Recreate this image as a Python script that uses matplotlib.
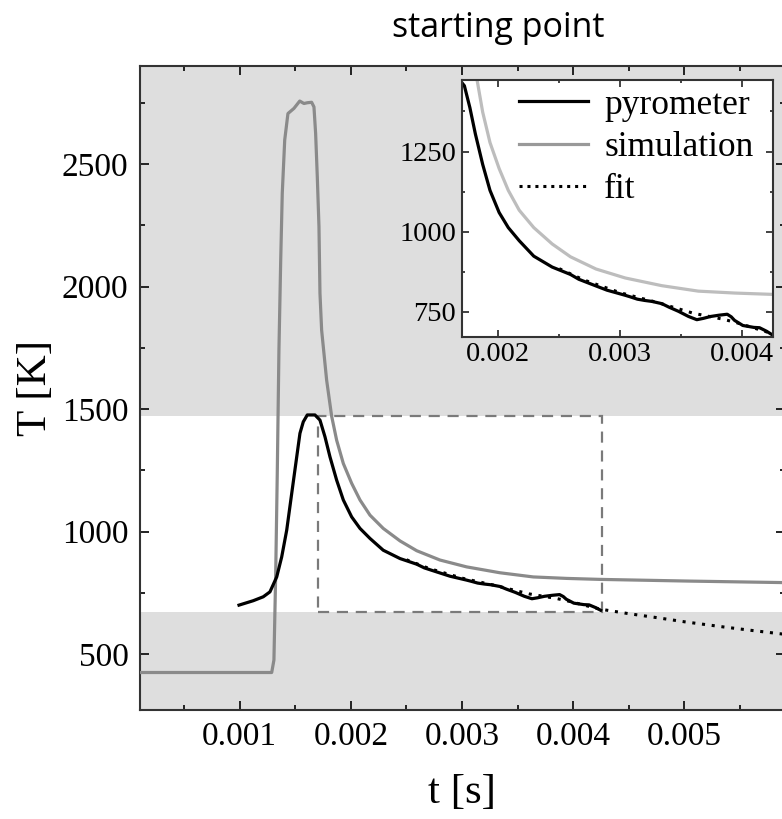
import matplotlib
matplotlib.use("Agg")
import matplotlib.pyplot as plt
from matplotlib.patches import Rectangle
from matplotlib.ticker import MultipleLocator

# ---------------- data ----------------
sim_t = [0.0001, 0.000904, 0.001288, 0.001308, 0.001324, 0.001338, 0.001353,
         0.001369, 0.001383, 0.001405, 0.001434, 0.001488, 0.00154, 0.001578,
         0.001608, 0.001647, 0.001668, 0.001683, 0.001698, 0.001713, 0.001722,
         0.001737, 0.001782, 0.001827, 0.001872, 0.001932, 0.002007, 0.002082,
         0.002172, 0.002291, 0.002442, 0.002592, 0.002801, 0.003041, 0.003341,
         0.00364, 0.00394, 0.00424, 0.00505, 0.005877, 0.0060]
sim_T = [425, 425, 425, 476, 830, 1236, 1740,
         2109, 2381, 2598, 2706, 2727, 2757, 2747,
         2750, 2752, 2733, 2625, 2448, 2245, 1973,
         1822, 1618, 1471, 1373, 1278, 1197, 1129,
         1067, 1013, 962, 922, 884, 856, 832,
         815, 809, 805, 798, 792, 791]

pyro_t = [0.000994, 0.001122, 0.001212, 0.001272, 0.001333, 0.001378, 0.001423,
          0.001468, 0.001513, 0.001542, 0.001572, 0.001608, 0.001677, 0.001722,
          0.001767, 0.001812, 0.001872, 0.001932, 0.002007, 0.002082, 0.002172,
          0.002291, 0.002442, 0.002592, 0.00266, 0.002741, 0.002891, 0.003041,
          0.003084, 0.00314, 0.00320, 0.003259, 0.003341, 0.0034, 0.003478,
          0.00356, 0.003628, 0.00368, 0.003741, 0.00381, 0.003877, 0.00391,
          0.003937, 0.004005, 0.004095, 0.004142, 0.0042, 0.004246]
pyro_T = [700, 718, 734, 754, 815, 897, 1006,
          1156, 1305, 1401, 1448, 1476, 1476, 1455,
          1387, 1305, 1210, 1129, 1060, 1013, 972,
          924, 890, 867, 852, 840, 818, 802,
          797, 790, 786, 783, 776, 765, 752,
          736, 726, 730, 736, 740, 743, 735,
          724, 708, 702, 701, 690, 679]

fit_t = [0.0025, 0.0027, 0.0030, 0.0033, 0.0036, 0.00385, 0.00396, 0.0042,
         0.00425, 0.0045, 0.00475, 0.0050, 0.00535, 0.0056, 0.0059]
fit_T = [885, 850, 810, 780, 746, 727, 716, 688,
         683, 665, 649, 632, 611, 597, 581]

zoom_t = (0.0017, 0.004255)
zoom_T = (673, 1473)

x_major = [0.001, 0.002, 0.003, 0.004, 0.005]
x_labels = ["0.001", "0.002", "0.003", "0.004", "0.005"]
y_major = [500, 1000, 1500, 2000, 2500]
ix_major = [0.002, 0.003, 0.004]
ix_labels = ["0.002", "0.003", "0.004"]
iy_major = [750, 1000, 1250]

# ---------------- figure ----------------
W, H = 782, 819
fig = plt.figure(figsize=(W / 100, H / 100), dpi=100)
plt.rcParams['font.family'] = ['Liberation Serif', 'DejaVu Serif']

def fr(x0, y0, x1, y1):
    return [x0 / W, 1 - y1 / H, (x1 - x0) / W, (y1 - y0) / H]

ax = fig.add_axes(fr(139.6, 66, 785, 710))
ax.set_facecolor('#dedede')
ax.axhspan(zoom_T[0], zoom_T[1], color='white', zorder=0, lw=0)

ax.plot(sim_t, sim_T, color='#8a8a8a', lw=2.3, zorder=3)
ax.plot(pyro_t, pyro_T, color='black', lw=2.3, zorder=4)
ax.plot(fit_t, fit_T, color='black', lw=2.2, ls=(0, (1, 2.2)), zorder=5)
ax.add_patch(Rectangle((zoom_t[0], zoom_T[0]), zoom_t[1] - zoom_t[0],
                       zoom_T[1] - zoom_T[0], fill=False, ec='#7a7a7a',
                       lw=1.6, ls=(0, (5, 3.5)), zorder=2))

ax.set_xlim(0.0001, 0.005904)
ax.set_ylim(272, 2900)
ax.set_xticks(x_major)
ax.set_xticklabels(x_labels)
ax.set_yticks(y_major)
ax.xaxis.set_minor_locator(MultipleLocator(0.0005))
ax.yaxis.set_minor_locator(MultipleLocator(250))
ax.tick_params(which='both', direction='in', top=True, right=True,
               width=1.4, color='#222222')
ax.tick_params(which='major', length=6.8, labelsize=24, pad=8)
ax.tick_params(which='minor', length=3.3)
for s in ax.spines.values():
    s.set_linewidth(1.5)
    s.set_color('#333333')
ax.set_xlabel('t [s]', fontsize=31, labelpad=16)
ax.set_ylabel('T [K]', fontsize=31, labelpad=5)

# ---------------- inset ----------------
ins = fig.add_axes(fr(461.7, 80, 773.3, 336.7))
ins.set_facecolor('white')
ins.plot(sim_t, sim_T, color='#bdbdbd', lw=2.3)
ins.plot(pyro_t, pyro_T, color='black', lw=2.3)
ins.plot(fit_t, fit_T, color='black', lw=2.2, ls=(0, (1, 2.2)))
ins.set_xlim(zoom_t)
ins.set_ylim(zoom_T)
ins.set_xticks(ix_major)
ins.set_xticklabels(ix_labels)
ins.set_yticks(iy_major)
ins.xaxis.set_minor_locator(MultipleLocator(0.0005))
ins.yaxis.set_minor_locator(MultipleLocator(125))
ins.tick_params(which='both', direction='in', top=True, right=True,
                width=1.2, color='#222222')
ins.tick_params(which='major', length=5, labelsize=20.5, pad=4)
ins.tick_params(which='minor', length=2.5)
for s in ins.spines.values():
    s.set_linewidth(1.5)
    s.set_color('#333333')

h1, = ins.plot([], [], color='black', lw=2.3)
h2, = ins.plot([], [], color='#999999', lw=2.3)
h3, = ins.plot([], [], color='black', lw=2.2, ls=(0, (1, 1.6)))
ins.legend([h1, h2, h3], ['pyrometer', 'simulation', 'fit'], loc='upper right',
           bbox_to_anchor=(0.965, 1.0),
           frameon=False, fontsize=25.5, handlelength=1.95, handletextpad=0.45,
           labelspacing=0.26, borderaxespad=0.15, borderpad=0.1)

fig.text(498 / W, 1 - 28 / H, 'starting point', ha='center', va='center',
         fontsize=24.5, family=['Open Sans', 'DejaVu Sans'])

fig.savefig('out.png', dpi=100)
